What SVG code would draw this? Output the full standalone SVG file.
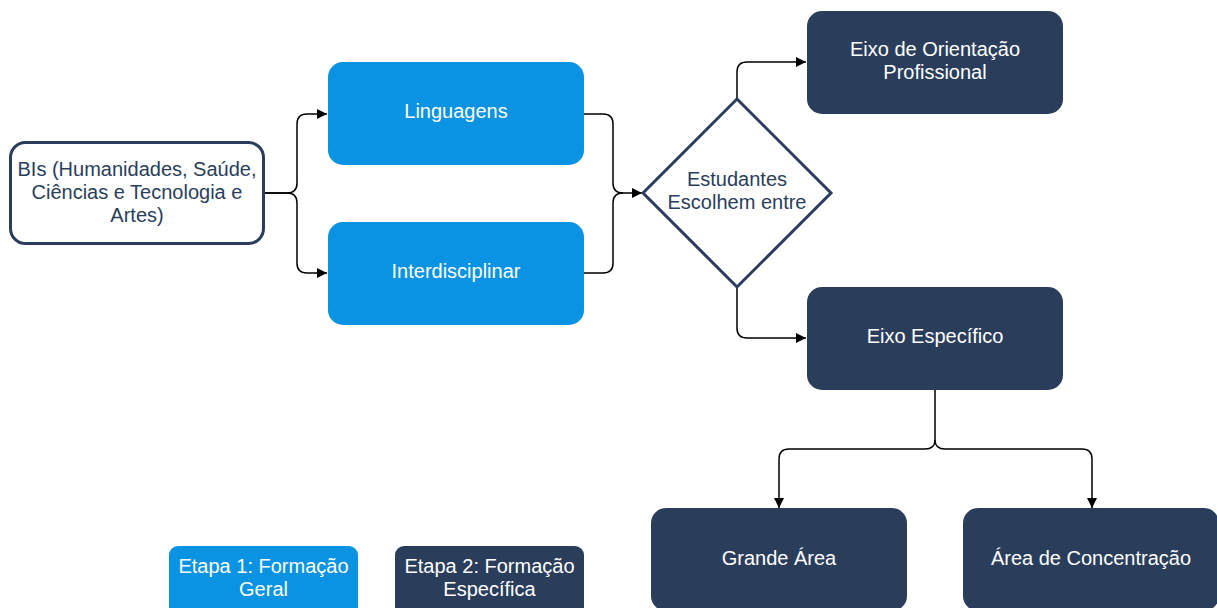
<svg xmlns="http://www.w3.org/2000/svg" width="1217" height="608" viewBox="0 0 1217 608">
<defs>
<marker id="arr" viewBox="0 0 10 10" refX="10" refY="5" markerWidth="10" markerHeight="10" markerUnits="userSpaceOnUse" orient="auto">
<path d="M0,0 L10,5 L0,10 Z" fill="#000"/>
</marker>
<style>
.t{font-family:"Liberation Sans",Arial,sans-serif;font-size:20px;text-anchor:middle}
.w{fill:#ffffff}
.d{fill:#2a3e5c}
.blue{fill:#0993e2}
.navy{fill:#2a3e5c}
.c{fill:none;stroke:#000;stroke-width:1.5}
</style>
</defs>
<rect width="1217" height="608" fill="#ffffff"/>
<g id="connectors">
<path class="c" d="M264,193 H287 Q297,193 297,183 V124 Q297,114 307,114 H327" marker-end="url(#arr)"/>
<path class="c" d="M264,193 H287 Q297,193 297,203 V263 Q297,273 307,273 H327" marker-end="url(#arr)"/>
<path class="c" d="M584,114 H603 Q613,114 613,124 V183 Q613,193 623,193 H642" marker-end="url(#arr)"/>
<path class="c" d="M584,273 H603 Q613,273 613,263 V203 Q613,193 623,193"/>
<path class="c" d="M737,99 V72 Q737,62 747,62 H806" marker-end="url(#arr)"/>
<path class="c" d="M737,287 V328 Q737,338 747,338 H806" marker-end="url(#arr)"/>
<path class="c" d="M935,390 V440 Q935,449 925,449 H789 Q779,449 779,459 V508" marker-end="url(#arr)"/>
<path class="c" d="M935,440 Q935,449 945,449 H1082 Q1092,449 1092,459 V508" marker-end="url(#arr)"/>
</g>
<g id="node-bis">
<rect x="10.5" y="142.5" width="253" height="101" rx="15" fill="#ffffff" stroke="#2a3e5c" stroke-width="3"/>
<text class="t d" x="137" y="176">BIs (Humanidades, Saúde,</text>
<text class="t d" x="137" y="199">Ciências e Tecnologia e</text>
<text class="t d" x="137" y="222">Artes)</text>
</g>
<g id="node-linguagens">
<rect x="328" y="62" width="256" height="103" rx="15" class="blue"/>
<text class="t w" x="456" y="118">Linguagens</text>
</g>
<g id="node-interdisciplinar">
<rect x="328" y="222" width="256" height="103" rx="15" class="blue"/>
<text class="t w" x="456" y="278">Interdisciplinar</text>
</g>
<g id="node-estudantes">
<path d="M737,99 L831,193 L737,287 L643,193 Z" fill="#ffffff" stroke="#2a3e5c" stroke-width="3"/>
<text class="t d" x="737" y="186">Estudantes</text>
<text class="t d" x="737" y="209">Escolhem entre</text>
</g>
<g id="node-orientacao">
<rect x="807" y="11" width="256" height="103" rx="15" class="navy"/>
<text class="t w" x="935" y="56">Eixo de Orientação</text>
<text class="t w" x="935" y="79">Profissional</text>
</g>
<g id="node-especifico">
<rect x="807" y="287" width="256" height="103" rx="15" class="navy"/>
<text class="t w" x="935" y="343">Eixo Específico</text>
</g>
<g id="node-grande-area">
<rect x="651" y="508" width="256" height="103" rx="15" class="navy"/>
<text class="t w" x="779" y="565">Grande Área</text>
</g>
<g id="node-area-concentracao">
<rect x="963" y="508" width="256" height="103" rx="15" class="navy"/>
<text class="t w" x="1091" y="565">Área de Concentração</text>
</g>
<g id="legend-etapa1">
<rect x="169" y="546" width="189" height="70" rx="9" class="blue"/>
<text class="t w" x="263.5" y="573">Etapa 1: Formação</text>
<text class="t w" x="263.5" y="596">Geral</text>
</g>
<g id="legend-etapa2">
<rect x="395" y="546" width="189" height="70" rx="9" class="navy"/>
<text class="t w" x="489.5" y="573">Etapa 2: Formação</text>
<text class="t w" x="489.5" y="596">Específica</text>
</g>
</svg>
